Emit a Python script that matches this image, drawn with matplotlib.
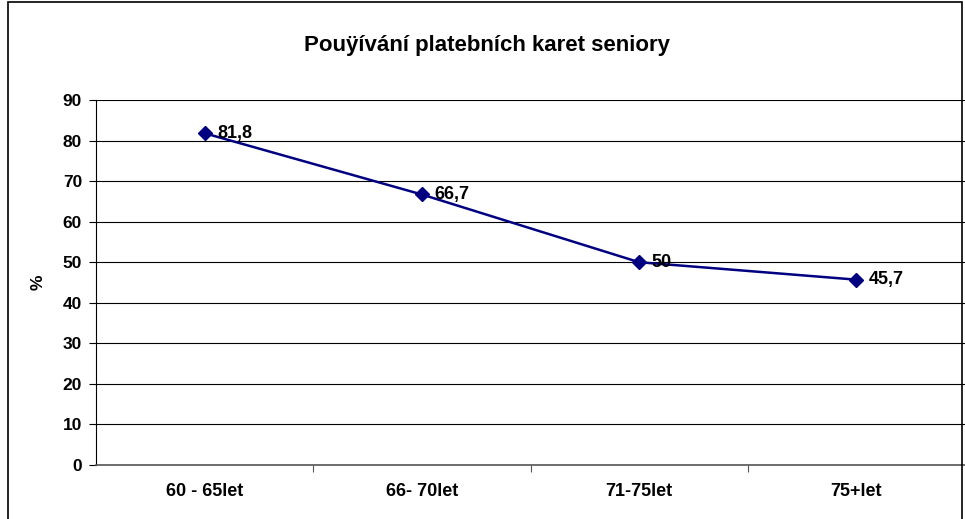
import matplotlib
matplotlib.use("Agg")
import matplotlib.pyplot as plt
from matplotlib.patches import Rectangle

plt.rcParams["font.family"] = ["Liberation Sans", "DejaVu Sans"]

categories = ["60 - 65let", "66- 70let", "71-75let", "75+let"]
values = [81.8, 66.7, 50, 45.7]
value_labels = ["81,8", "66,7", "50", "45,7"]
yticks = [0, 10, 20, 30, 40, 50, 60, 70, 80, 90]

W, H = 965, 519
fig = plt.figure(figsize=(W / 100, H / 100), dpi=100)

# chart frame (bottom edge cut off in the reference)
fig.add_artist(Rectangle((8 / W, -0.1), 954 / W, 1.1 - 2 / H,
                         transform=fig.transFigure, fill=False,
                         edgecolor="black", linewidth=1.2, clip_on=False))

left, right, top, bottom = 96, 965, 100, 465
ax = fig.add_axes([left / W, 1 - bottom / H, (right - left) / W, (bottom - top) / H])

x = list(range(len(categories)))
ax.plot(x, values, color="#000080", linewidth=1.8, marker="D",
        markersize=7, markerfacecolor="#000080", markeredgecolor="#000080",
        zorder=3)
for xi, v, lab in zip(x, values, value_labels):
    ax.annotate(lab, (xi, v), xytext=(9, 0), textcoords="offset points",
                ha="left", va="center", fontsize=13, fontweight="bold",
                zorder=4)

ax.set_xlim(-0.5, len(categories) - 0.5)
ax.set_ylim(0, 90)
ax.set_yticks(yticks)
ax.set_yticklabels([str(t) for t in yticks], fontsize=12.5, fontweight="bold")
ax.set_xticks(x)
ax.set_xticklabels(categories, fontsize=13, fontweight="bold")
ax.set_xticks([i + 0.5 for i in x[:-1]], minor=True)
ax.tick_params(axis="x", which="major", length=0, pad=13)
ax.tick_params(axis="x", which="minor", length=5, width=0.8, color="#555555")
ax.tick_params(axis="y", length=5, width=0.8, pad=5)
ax.yaxis.grid(True, color="black", linewidth=0.8)
ax.set_axisbelow(True)

for s in ("top", "right"):
    ax.spines[s].set_visible(False)
ax.spines["left"].set_color("black")
ax.spines["left"].set_linewidth(0.8)
ax.spines["bottom"].set_color("#555555")
ax.spines["bottom"].set_linewidth(1.2)

ax.set_ylabel("%", fontsize=12.5, fontweight="bold")
ax.yaxis.set_label_coords((46 - left) / (right - left), 0.5)

fig.text(487 / W, 1 - 45 / H, "Pouÿívání platebních karet seniory",
         ha="center", va="center", fontsize=16, fontweight="bold")

fig.savefig("out.png", dpi=100)
